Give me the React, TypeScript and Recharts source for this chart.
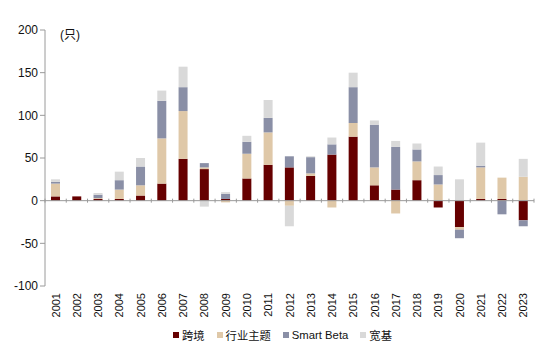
import { BarChart, Bar, XAxis, YAxis, ReferenceLine, Legend } from 'recharts';

const years = ['2001', '2002', '2003', '2004', '2005', '2006', '2007', '2008', '2009', '2010', '2011', '2012', '2013', '2014', '2015', '2016', '2017', '2018', '2019', '2020', '2021', '2022', '2023'];
const crossBorder = [5, 5, 2, 2, 6, 20, 49, 37, 2, 26, 42, 39, 29, 54, 75, 18, 13, 24, -8, -31, 2, 2, -23];
const sectorTheme = [15, 0, 1, 11, 12, 53, 56, 2, -2, 29, 38, -6, 3, -8, 16, 21, -15, 22, 19, -3, 37, 25, 28];
const smartBeta = [2, 0, 4, 11, 22, 44, 28, 5, 6, 14, 17, 13, 19, 12, 42, 50, 50, 14, 11, -10, 2, -16, -7];
const broadBase = [3, 0, 2, 10, 10, 12, 24, -7, 2, 7, 21, -24, 1, 8, 17, 5, 7, 7, 10, 25, 27, 0, 21];
const yTicks = [-100, -50, 0, 50, 100, 150, 200];
const seriesOrder = ['跨境', '行业主题', 'Smart Beta', '宽基'];

const data = years.map((year, i) => ({
  year,
  跨境: crossBorder[i],
  行业主题: sectorTheme[i],
  'Smart Beta': smartBeta[i],
  宽基: broadBase[i],
}));

const W = 547;
const H = 361;
const LEFT = 45;
const RIGHT = 534;
const TOP = 30;
const BOTTOM = 283;
const band = (RIGHT - LEFT) / years.length;
const zeroY = TOP + ((BOTTOM - TOP) * 200) / 300;
const font = 'Arial, "Liberation Sans", "Noto Sans CJK SC", sans-serif';

function YearTick(props: any) {
  const { x, y, payload, index } = props;
  const left = x - band / 2;
  return (
    <g>
      <line x1={left} x2={left} y1={zeroY} y2={zeroY + 4} stroke="#9a9a9a" />
      {index === years.length - 1 && (
        <line x1={left + band} x2={left + band} y1={zeroY} y2={zeroY + 4} stroke="#9a9a9a" />
      )}
      <text
        x={x + 4}
        y={y - 1}
        transform={`rotate(-90 ${x + 4} ${y - 1})`}
        textAnchor="end"
        fontSize={11}
        fill="#111"
        fontFamily={font}
      >
        {payload.value}
      </text>
    </g>
  );
}

function LegendContent(props: any) {
  const items = [...(props.payload || [])].sort(
    (a: any, b: any) => seriesOrder.indexOf(a.value) - seriesOrder.indexOf(b.value)
  );
  return (
    <div style={{ display: 'flex', alignItems: 'center', paddingLeft: 173, fontSize: 11.3, color: '#111', fontFamily: font }}>
      {items.map((it: any) => (
        <div key={it.value} style={{ display: 'flex', alignItems: 'center', marginRight: 12 }}>
          <span style={{ width: 6, height: 6, background: it.color, marginRight: 3, display: 'inline-block' }} />
          <span>{it.value}</span>
        </div>
      ))}
    </div>
  );
}

export default function App() {
  return (
    <div style={{ position: 'absolute', left: 0, top: 0, width: W, height: H, background: '#fff', fontFamily: font }}>
      <BarChart
        width={W}
        height={H}
        data={data}
        stackOffset="sign"
        barSize={9}
        margin={{ top: TOP, right: W - RIGHT, bottom: 19, left: 0 }}
      >
        <YAxis
          width={LEFT}
          domain={[-100, 200]}
          ticks={yTicks}
          interval={0}
          axisLine={{ stroke: '#9a9a9a' }}
          tickLine={{ stroke: '#9a9a9a' }}
          tickSize={5}
          tick={{ fontSize: 12, fill: '#111', fontFamily: font }}
        />
        <XAxis
          dataKey="year"
          interval={0}
          axisLine={false}
          tickLine={false}
          height={40}
          tick={<YearTick />}
        />
        <ReferenceLine y={0} stroke="#9a9a9a" />
        <Bar dataKey="跨境" stackId="a" fill="#660000" isAnimationActive={false} />
        <Bar dataKey="行业主题" stackId="a" fill="#dfc8a8" isAnimationActive={false} />
        <Bar dataKey="Smart Beta" stackId="a" fill="#8a8fa6" isAnimationActive={false} />
        <Bar dataKey="宽基" stackId="a" fill="#d9d9d9" isAnimationActive={false} />
        <Legend
          content={<LegendContent />}
          wrapperStyle={{ left: 0, top: 327, width: W, height: 16 }}
        />
      </BarChart>
      <div style={{ position: 'absolute', left: 60, top: 25, fontSize: 12, color: '#111' }}>(只)</div>
    </div>
  );
}
